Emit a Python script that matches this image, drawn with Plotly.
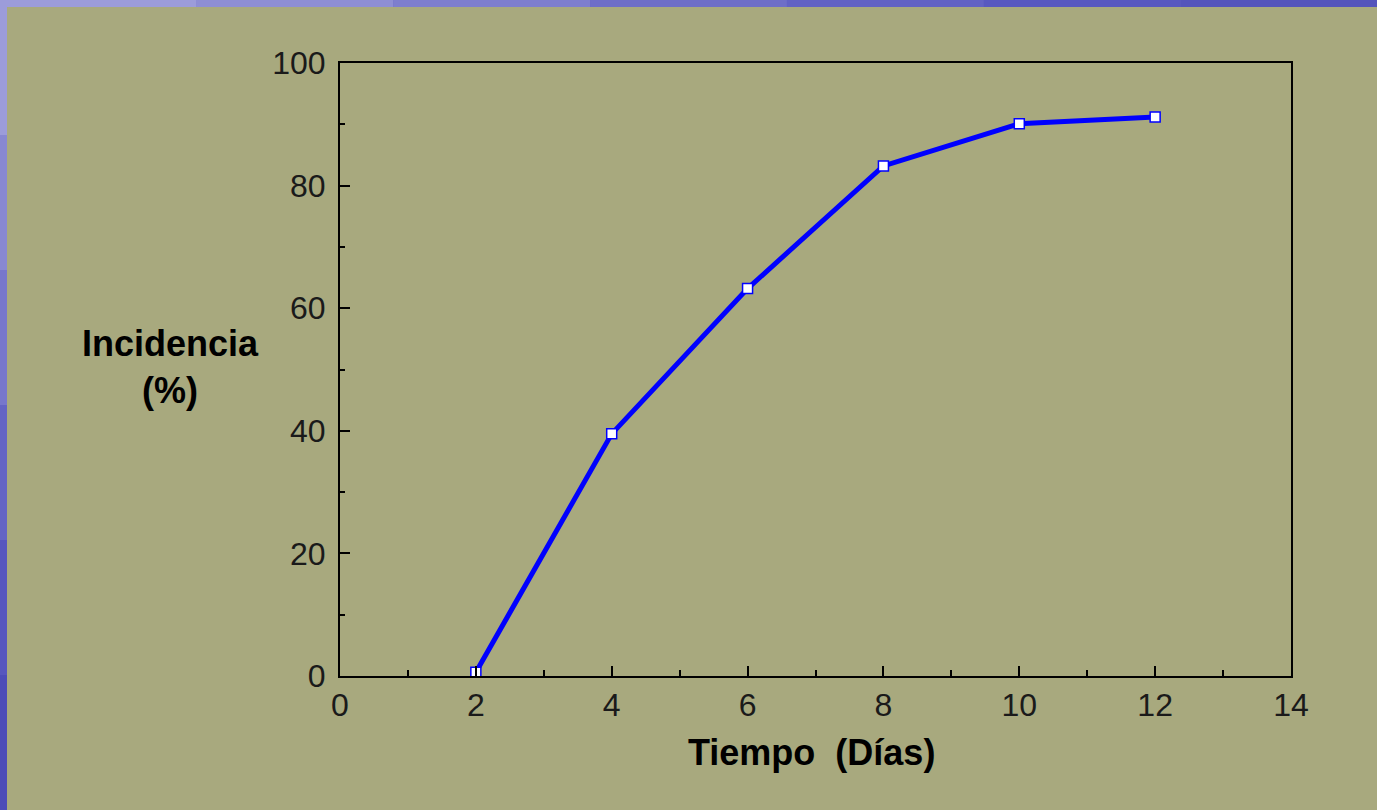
import plotly.graph_objects as go

dias = [2, 4, 6, 8, 10, 12]
incidencia = [0.6, 39.5, 63.2, 83.2, 90.1, 91.2]
x_ticks = [0, 2, 4, 6, 8, 10, 12, 14]
y_ticks = [0, 20, 40, 60, 80, 100]

W, H = 1377, 810
L, R, T, B = 340, 1291, 63, 676
pw, ph = R - L, B - T

def px(x):
    return (x - L) / pw

def py(y):
    return (B - y) / ph

OLIVE = "#a8a97e"

fig = go.Figure()
fig.add_trace(go.Scatter(
    x=dias, y=incidencia, mode="lines+markers",
    line=dict(color="#0000ff", width=5),
    marker=dict(symbol="square", size=10, color="white",
                line=dict(color="#0000ff", width=1.5)),
    showlegend=False, hoverinfo="x+y",
))

shapes = []
# blue slide border strips (approximate gradient with segments)
blues_top = ["#9c9cda", "#8e8ed4", "#7e7ece", "#6e6ec8", "#6262c4", "#5858c0", "#5454bc"]
nseg = len(blues_top)
for i, c in enumerate(blues_top):
    shapes.append(dict(type="rect", xref="paper", yref="paper",
                       x0=px(i * W / nseg), x1=px((i + 1) * W / nseg),
                       y0=py(7), y1=py(0), fillcolor=c, line=dict(width=0), layer="below"))
blues_left = ["#9c9cda", "#8888d2", "#7777cc", "#6464c4", "#5656be", "#4c4cb8"]
nseg = len(blues_left)
for i, c in enumerate(blues_left):
    shapes.append(dict(type="rect", xref="paper", yref="paper",
                       x0=px(0), x1=px(7),
                       y0=py((i + 1) * H / nseg), y1=py(i * H / nseg),
                       fillcolor=c, line=dict(width=0), layer="below"))
shapes.append(dict(type="rect", xref="paper", yref="paper",
                   x0=px(7), x1=px(W + 5), y0=py(H + 5), y1=py(7),
                   fillcolor=OLIVE, line=dict(width=0), layer="below"))

tickfont = dict(family="Liberation Sans, Arial, sans-serif", size=32, color="#1a1a1a")
titlefont = dict(family="Liberation Sans, Arial, sans-serif", size=36, color="black")

fig.update_layout(
    width=W, height=H,
    margin=dict(l=L, r=W - R, t=T, b=H - B, pad=0),
    paper_bgcolor="#6a6ac6",
    plot_bgcolor=OLIVE,
    shapes=shapes,
    xaxis=dict(range=[0, 14], tickvals=x_ticks, ticktext=[str(v) for v in x_ticks],
               showgrid=False, zeroline=False, showline=True, linecolor="black",
               linewidth=2, mirror=True, ticks="inside", ticklen=10, tickwidth=2,
               tickcolor="black", tickfont=tickfont, ticklabelstandoff=0,
               minor=dict(dtick=1, ticks="inside", ticklen=6, tickwidth=2, tickcolor="black")),
    yaxis=dict(range=[0, 100], tickvals=y_ticks, ticktext=[str(v) for v in y_ticks],
               showgrid=False, zeroline=False, showline=True, linecolor="black",
               linewidth=2, mirror=True, ticks="inside", ticklen=10, tickwidth=2,
               tickcolor="black", tickfont=tickfont, ticklabelstandoff=6,
               minor=dict(dtick=10, ticks="inside", ticklen=5, tickwidth=2, tickcolor="black")),
    annotations=[
        dict(text="<b>Incidencia<br>(%)</b>", xref="paper", yref="paper",
             x=px(170), y=py(367), xanchor="center", yanchor="middle", showarrow=False,
             font=titlefont),
        dict(text="<b>Tiempo\u00a0\u00a0(Días)</b>", xref="paper", yref="paper",
             x=px(811), y=py(752), xanchor="center", yanchor="middle", showarrow=False,
             font=titlefont),
    ],
)

fig.write_html("out.html", config={"displayModeBar": False},
               post_script="document.body.style.margin='0px';document.body.style.overflow='hidden';")
